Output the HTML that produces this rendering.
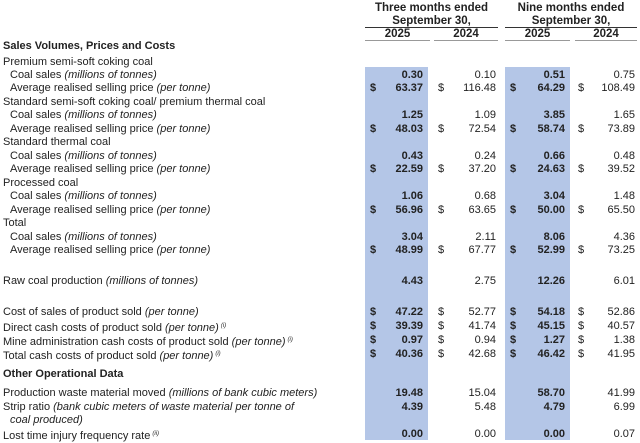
<!DOCTYPE html>
<html><head><meta charset="utf-8"><style>
body{margin:0;width:640px;height:440px;background:#fff;position:relative;overflow:hidden;font-family:"Liberation Sans",Arial,sans-serif;font-size:11px;color:#222}
.bl{position:absolute;background:#b4c6e7;top:67px;height:373px}
.r{position:absolute;left:0;width:640px;height:13px;line-height:13px;white-space:nowrap}
.l{position:absolute;left:3px}
.s{left:10px}
.h{font-weight:bold}
i{font-style:italic}
sup{font-size:6px;font-style:italic;vertical-align:4px;margin-left:2px}
.v{position:absolute;text-align:right}
.c1{right:217px;font-weight:bold}.c2{right:144px}.c3{right:75px;font-weight:bold}.c4{right:5px}
.d{position:absolute}
.d1{left:370px;font-weight:bold}.d2{left:438px}.d3{left:510px;font-weight:bold}.d4{left:578px}
.hd{position:absolute;font-weight:bold;text-align:center;font-size:11.5px}
.ln{position:absolute;height:0;border-top:1.5px solid #333}
.ln2{position:absolute;height:0;border-top:1.5px solid #999}
</style></head><body>
<div class="bl" style="left:365px;width:63px"></div>
<div class="bl" style="left:505px;width:65px"></div>

<div class="hd" style="left:365px;width:133px;top:2px">Three months ended</div>
<div class="hd" style="left:365px;width:133px;top:15px">September 30,</div>
<div class="hd" style="left:505px;width:132px;top:2px">Nine months ended</div>
<div class="hd" style="left:505px;width:132px;top:15px">September 30,</div>
<div class="ln" style="left:365px;width:133px;top:27px"></div>
<div class="ln" style="left:505px;width:132px;top:27px"></div>
<div class="hd" style="left:365px;width:65px;top:28px">2025</div>
<div class="hd" style="left:434px;width:64px;top:28px">2024</div>
<div class="hd" style="left:505px;width:65px;top:28px">2025</div>
<div class="hd" style="left:575px;width:62px;top:28px">2024</div>
<div class="ln2" style="left:365px;width:65px;top:40px"></div>
<div class="ln2" style="left:434px;width:64px;top:40px"></div>
<div class="ln2" style="left:505px;width:65px;top:40px"></div>
<div class="ln2" style="left:575px;width:62px;top:40px"></div>

<div class="r" style="top:40px"><span class="l h">Sales Volumes, Prices and Costs</span></div>
<div class="r" style="top:56px"><span class="l">Premium semi-soft coking coal</span></div>
<div class="r" style="top:69px"><span class="l s">Coal sales <i>(millions of tonnes)</i></span><span class="v c1">0.30</span><span class="v c2">0.10</span><span class="v c3">0.51</span><span class="v c4">0.75</span></div>
<div class="r" style="top:82px"><span class="l s">Average realised selling price <i>(per tonne)</i></span><span class="d d1">$</span><span class="v c1">63.37</span><span class="d d2">$</span><span class="v c2">116.48</span><span class="d d3">$</span><span class="v c3">64.29</span><span class="d d4">$</span><span class="v c4">108.49</span></div>
<div class="r" style="top:96px"><span class="l">Standard semi-soft coking coal/ premium thermal coal</span></div>
<div class="r" style="top:109px"><span class="l s">Coal sales <i>(millions of tonnes)</i></span><span class="v c1">1.25</span><span class="v c2">1.09</span><span class="v c3">3.85</span><span class="v c4">1.65</span></div>
<div class="r" style="top:123px"><span class="l s">Average realised selling price <i>(per tonne)</i></span><span class="d d1">$</span><span class="v c1">48.03</span><span class="d d2">$</span><span class="v c2">72.54</span><span class="d d3">$</span><span class="v c3">58.74</span><span class="d d4">$</span><span class="v c4">73.89</span></div>
<div class="r" style="top:136px"><span class="l">Standard thermal coal</span></div>
<div class="r" style="top:150px"><span class="l s">Coal sales <i>(millions of tonnes)</i></span><span class="v c1">0.43</span><span class="v c2">0.24</span><span class="v c3">0.66</span><span class="v c4">0.48</span></div>
<div class="r" style="top:163px"><span class="l s">Average realised selling price <i>(per tonne)</i></span><span class="d d1">$</span><span class="v c1">22.59</span><span class="d d2">$</span><span class="v c2">37.20</span><span class="d d3">$</span><span class="v c3">24.63</span><span class="d d4">$</span><span class="v c4">39.52</span></div>
<div class="r" style="top:177px"><span class="l">Processed coal</span></div>
<div class="r" style="top:190px"><span class="l s">Coal sales <i>(millions of tonnes)</i></span><span class="v c1">1.06</span><span class="v c2">0.68</span><span class="v c3">3.04</span><span class="v c4">1.48</span></div>
<div class="r" style="top:204px"><span class="l s">Average realised selling price <i>(per tonne)</i></span><span class="d d1">$</span><span class="v c1">56.96</span><span class="d d2">$</span><span class="v c2">63.65</span><span class="d d3">$</span><span class="v c3">50.00</span><span class="d d4">$</span><span class="v c4">65.50</span></div>
<div class="r" style="top:217px"><span class="l">Total</span></div>
<div class="r" style="top:231px"><span class="l s">Coal sales <i>(millions of tonnes)</i></span><span class="v c1">3.04</span><span class="v c2">2.11</span><span class="v c3">8.06</span><span class="v c4">4.36</span></div>
<div class="r" style="top:244px"><span class="l s">Average realised selling price <i>(per tonne)</i></span><span class="d d1">$</span><span class="v c1">48.99</span><span class="d d2">$</span><span class="v c2">67.77</span><span class="d d3">$</span><span class="v c3">52.99</span><span class="d d4">$</span><span class="v c4">73.25</span></div>
<div class="r" style="top:275px"><span class="l">Raw coal production <i>(millions of tonnes)</i></span><span class="v c1">4.43</span><span class="v c2">2.75</span><span class="v c3">12.26</span><span class="v c4">6.01</span></div>
<div class="r" style="top:306px"><span class="l">Cost of sales of product sold <i>(per tonne)</i></span><span class="d d1">$</span><span class="v c1">47.22</span><span class="d d2">$</span><span class="v c2">52.77</span><span class="d d3">$</span><span class="v c3">54.18</span><span class="d d4">$</span><span class="v c4">52.86</span></div>
<div class="r" style="top:320px"><span class="l">Direct cash costs of product sold <i>(per tonne)</i><sup>(i)</sup></span><span class="d d1">$</span><span class="v c1">39.39</span><span class="d d2">$</span><span class="v c2">41.74</span><span class="d d3">$</span><span class="v c3">45.15</span><span class="d d4">$</span><span class="v c4">40.57</span></div>
<div class="r" style="top:334px"><span class="l">Mine administration cash costs of product sold <i>(per tonne)</i><sup>(i)</sup></span><span class="d d1">$</span><span class="v c1">0.97</span><span class="d d2">$</span><span class="v c2">0.94</span><span class="d d3">$</span><span class="v c3">1.27</span><span class="d d4">$</span><span class="v c4">1.38</span></div>
<div class="r" style="top:348px"><span class="l">Total cash costs of product sold <i>(per tonne)</i><sup>(i)</sup></span><span class="d d1">$</span><span class="v c1">40.36</span><span class="d d2">$</span><span class="v c2">42.68</span><span class="d d3">$</span><span class="v c3">46.42</span><span class="d d4">$</span><span class="v c4">41.95</span></div>
<div class="r" style="top:368px"><span class="l h">Other Operational Data</span></div>
<div class="r" style="top:387px"><span class="l">Production waste material moved <i>(millions of bank cubic meters)</i></span><span class="v c1">19.48</span><span class="v c2">15.04</span><span class="v c3">58.70</span><span class="v c4">41.99</span></div>
<div class="r" style="top:401px"><span class="l">Strip ratio <i>(bank cubic meters of waste material per tonne of</i></span><span class="v c1">4.39</span><span class="v c2">5.48</span><span class="v c3">4.79</span><span class="v c4">6.99</span></div>
<div class="r" style="top:414px"><span class="l s"><i>coal produced)</i></span></div>
<div class="r" style="top:428px"><span class="l">Lost time injury frequency rate<sup>(ii)</sup></span><span class="v c1">0.00</span><span class="v c2">0.00</span><span class="v c3">0.00</span><span class="v c4">0.07</span></div>
</body></html>
